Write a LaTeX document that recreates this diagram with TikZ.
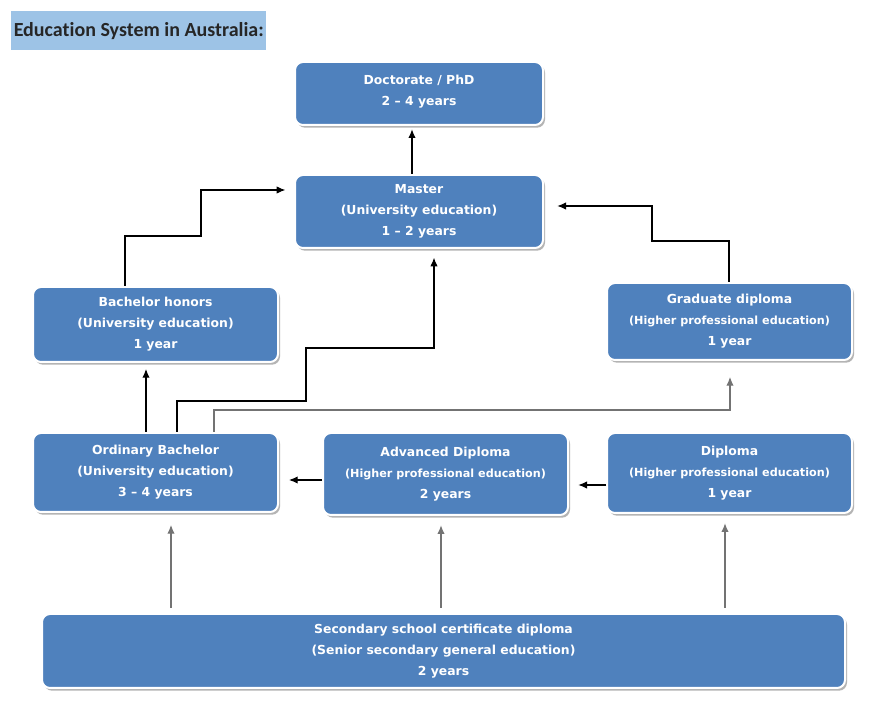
\documentclass[tikz,border=0pt]{standalone}
\usepackage{fontspec}
\setmainfont{DejaVu Sans}
\newfontfamily\titlefont[Ligatures={NoCommon}]{Carlito}
\usetikzlibrary{calc,shadows,arrows.meta}
\definecolor{boxblue}{HTML}{4F81BD}
\definecolor{titleblue}{HTML}{9DC3E6}
\newcommand{\sm}{\fontsize{8.4}{15.75}\selectfont}
\begin{document}
\begin{tikzpicture}[x=0.75pt,y=-0.75pt,
  edbox/.style={rectangle, rounded corners=6pt, fill=boxblue, draw=white, line width=1.5pt,
    text=white, font=\bfseries\fontsize{9.3}{15.75}\selectfont, align=center, inner sep=0pt,
    drop shadow={shadow xshift=1.5pt, shadow yshift=-2pt, fill=black!45, opacity=0.65}},
  arr/.style={-{Latex[length=6.5pt,width=5.5pt]}, line width=0.8pt, draw=black},
  garr/.style={arr, draw=black!55}
]
\fill[white] (0,0) rectangle (869,702);
\path[use as bounding box] (0,0) rectangle (869,702);

\node[fill=titleblue, minimum width=191.25pt, minimum height=29.25pt, inner sep=0pt,
  anchor=north west, text=black!85, font=\titlefont\bfseries\fontsize{15}{16}\selectfont]
  (title) at (11,11) {Education System in Australia:};

\node[edbox, minimum width=186pt, minimum height=47.25pt] (doc) at (419,93.5)
  {Doctorate / PhD\\2 -- 4 years\\[-11pt]};
\node[edbox, minimum width=186pt, minimum height=54.75pt] (master) at (419,211.5)
  {Master\\(University education)\\1 -- 2 years};
\node[edbox, minimum width=183.75pt, minimum height=56.25pt] (bh) at (155.5,324.5)
  {Bachelor honors\\(University education)\\1 year};
\node[edbox, minimum width=183.75pt, minimum height=57.75pt] (gd) at (729.5,321.5)
  {Graduate diploma\\{\sm(Higher professional education)}\\1 year};
\node[edbox, minimum width=183.75pt, minimum height=59.25pt] (ob) at (155.5,472.5)
  {Ordinary Bachelor\\(University education)\\3 -- 4 years};
\node[edbox, minimum width=183.75pt, minimum height=61.5pt] (ad) at (445.5,474)
  {Advanced Diploma\\{\sm(Higher professional education)}\\2 years};
\node[edbox, minimum width=183.75pt, minimum height=60pt] (dip) at (729.5,473)
  {Diploma\\{\sm(Higher professional education)}\\1 year};
\node[edbox, minimum width=602.25pt, minimum height=55.5pt] (sec) at (443.5,651)
  {Secondary school certificate diploma\\(Senior secondary general education)\\2 years};

% connectors
\draw[arr, shorten >=2.5pt] ($(master.north)+(-7,0)$) -- ($(doc.south)+(-7,0)$);
\draw[arr, shorten >=6.5pt] ($(bh.north)+(-30.5,0)$) -- ++(0,-50) -- ++(76,0)
  |- ($(master.west)+(0,-21.5)$);
\draw[arr, shorten >=10pt] ($(gd.north)+(-0.5,0)$) -- ++(0,-41) -- ++(-77,0)
  |- ($(master.east)+(0,-5.5)$);
\draw[arr, shorten >=4.5pt] ($(ob.north)+(-9.5,0)$) -- ($(bh.south)+(-9.5,0)$);
\draw[arr, shorten >=6.5pt] ($(ob.north)+(21.5,0)$) -- ++(0,-31) -- ++(129,0) -- ++(0,-53)
  -| ($(master.south)+(15,0)$);
\draw[garr, shorten >=12pt] ($(ob.north)+(58.5,0)$) -- ++(0,-22)
  -| ($(gd.south)+(0.5,0)$);
\draw[arr, shorten >=7.5pt] ($(ad.west)+(0,6)$) -- ($(ob.east)+(0,7.5)$);
\draw[arr, shorten >=7pt] ($(dip.west)+(0,12)$) -- ($(ad.east)+(0,11)$);
\draw[garr, shorten <=4pt, shorten >=9pt] ($(sec.north)+(-272.5,0)$) -- ($(ob.south)+(15.5,0)$);
\draw[garr, shorten <=4pt, shorten >=7pt] ($(sec.north)+(-2.5,0)$) -- ($(ad.south)+(-4.5,0)$);
\draw[garr, shorten <=4pt, shorten >=7pt] ($(sec.north)+(281.5,0)$) -- ($(dip.south)+(-4.5,0)$);
\end{tikzpicture}
\end{document}
